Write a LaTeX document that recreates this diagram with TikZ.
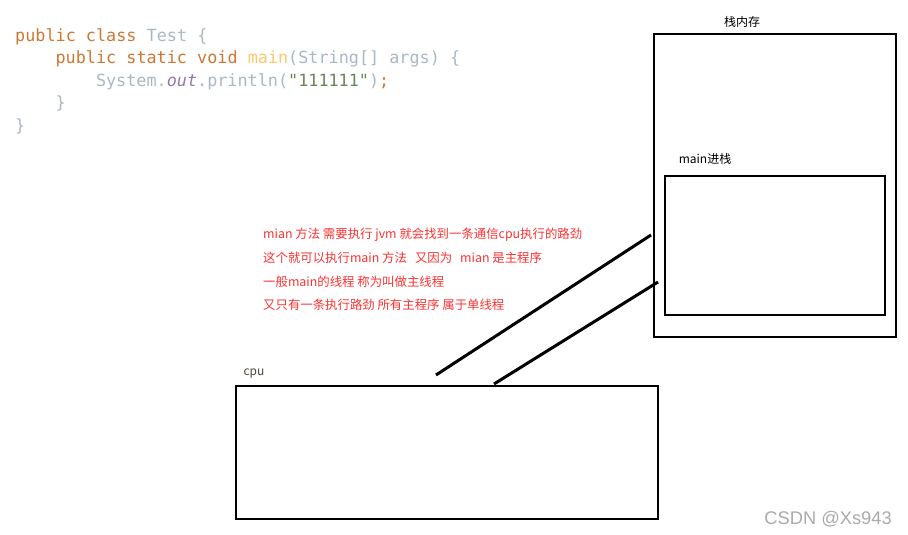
\documentclass[tikz,border=0pt]{standalone}
\usepackage{fontspec}
\setmonofont{DejaVu Sans Mono}
\newfontfamily\cjk{Noto Sans CJK SC}
\newfontfamily\wmfont{Liberation Sans}
\usetikzlibrary{positioning}

\definecolor{kwcol}{RGB}{204,120,50}
\definecolor{plaincol}{RGB}{169,183,198}
\definecolor{fncol}{RGB}{255,198,109}
\definecolor{fieldcol}{RGB}{152,118,170}
\definecolor{strcol}{RGB}{106,135,89}
\definecolor{notecol}{RGB}{250,50,50}
\definecolor{wmcol}{RGB}{170,170,170}

\begin{document}
\begin{tikzpicture}[x=1pt,y=-1pt,
  code/.style={anchor=base west,inner sep=0pt,font=\ttfamily\fontsize{16.8}{20}\selectfont},
  note/.style={anchor=west,inner sep=0pt,text=notecol,font=\cjk\fontsize{12.4}{15}\selectfont},
  lbl/.style={inner sep=0pt,font=\cjk\fontsize{12}{14}\selectfont},
  frame/.style={draw,line width=2.8pt,inner sep=0pt},
  link/.style={line width=3pt}]
\useasboundingbox (0,0) rectangle (908,535);

% the java source
\node[code] (c1) at (15,41.5) {\color{kwcol}public class \color{plaincol}Test \{};
\node[code] (c2) at (55.4,63.5) {\color{kwcol}public static void \color{fncol}main\color{plaincol}(String[] args) \{};
\node[code] (c3) at (95.8,86.5) {\color{plaincol}System.\color{fieldcol}\itshape out\upshape\color{plaincol}.println(\color{strcol}"111111"\color{plaincol})\color{kwcol};};
\node[code] (c4) at (55.4,108.5) {\color{plaincol}\}};
\node[code] (c5) at (15,131.5) {\color{plaincol}\}};

% stack memory
\node[frame,minimum width=242,minimum height=303] (stack) at (775,185.5) {};
\node[lbl] (stacklbl) at (742,22) {栈内存};
\node[frame,minimum width=220,minimum height=139] (mainframe) at (775,245.5) {};
\node[lbl] (mainlbl) at (705,159) {main进栈};

% cpu
\node[frame,minimum width=422,minimum height=133] (cpu) at (447,452.5) {};
\node[lbl,text={rgb,255:red,80;green,70;blue,60}] (cpulbl) at (254,373.5) {cpu};

% explanation
\node[note] (n1) at (263,235) {mian 方法 需要执行 jvm 就会找到一条通信cpu执行的路劲};
\node[note] (n2) at (263,258) {这个就可以执行main 方法\hspace{8pt}又因为\hspace{8pt}mian 是主程序};
\node[note] (n3) at (263,282) {一般main的线程 称为叫做主线程};
\node[note] (n4) at (263,305) {又只有一条执行路劲 所有主程序 属于单线程};

% path between cpu and stack
\coordinate (p1) at (436,375);
\coordinate (q1) at (651,235);
\coordinate (p2) at (494,384);
\coordinate (q2) at (658,282);
\draw[link] (p1) -- (q1);
\draw[link] (p2) -- (q2);

\node[anchor=east,inner sep=0pt,text=wmcol,font=\wmfont\fontsize{18.3}{20}\selectfont] (wm) at (892,519) {CSDN @Xs943};
\end{tikzpicture}
\end{document}
